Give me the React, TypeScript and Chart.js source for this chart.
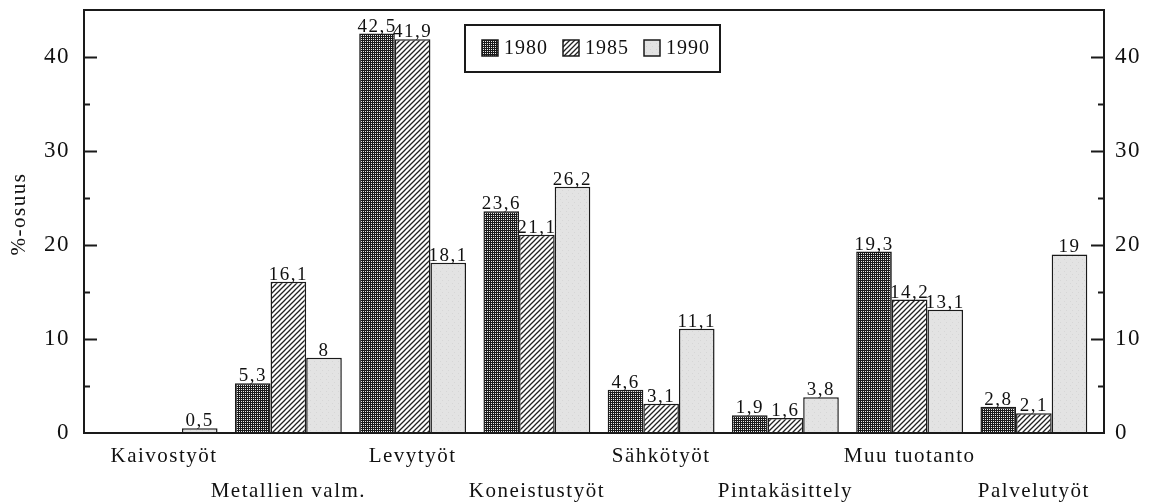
import React, { useEffect, useRef } from 'react';
import { Chart, registerables } from 'chart.js';

Chart.register(...registerables);

const categories = [
  'Kaivostyöt',
  'Metallien valm.',
  'Levytyöt',
  'Koneistustyöt',
  'Sähkötyöt',
  'Pintakäsittely',
  'Muu tuotanto',
  'Palvelutyöt',
];
const years = ['1980', '1985', '1990'];
const values1980 = [0, 5.3, 42.5, 23.6, 4.6, 1.9, 19.3, 2.8];
const values1985 = [0, 16.1, 41.9, 21.1, 3.1, 1.6, 14.2, 2.1];
const values1990 = [0.5, 8, 18.1, 26.2, 11.1, 3.8, 13.1, 19];
const yMin = 0;
const yMax = 45;
const yStep = 5;
const yTitle = '%-osuus';

const SERIF = '"Liberation Serif", "DejaVu Serif", serif';
const INK = '#111111';
// frame extends beyond the category band on each side
const FRAME_EXTRA_LEFT = 18;
const FRAME_EXTRA_RIGHT = 8;

function makePattern(kind: number): CanvasPattern | string {
  const c = document.createElement('canvas');
  const ctx = c.getContext('2d');
  if (!ctx) return '#888';
  if (kind === 0) {
    c.width = 4;
    c.height = 4;
    ctx.fillStyle = '#1a1a1a';
    ctx.fillRect(0, 0, 4, 4);
    ctx.fillStyle = '#e8e8e8';
    ctx.fillRect(1, 1, 1, 1);
    ctx.fillRect(3, 3, 1, 1);
    ctx.fillRect(1, 3, 1, 1);
    ctx.fillRect(3, 1, 1, 1);
  } else if (kind === 1) {
    c.width = 5;
    c.height = 5;
    ctx.fillStyle = '#ffffff';
    ctx.fillRect(0, 0, 5, 5);
    ctx.strokeStyle = '#222222';
    ctx.lineWidth = 1.3;
    ctx.beginPath();
    ctx.moveTo(-1, 6);
    ctx.lineTo(6, -1);
    ctx.moveTo(-1, 1);
    ctx.lineTo(1, -1);
    ctx.moveTo(4, 6);
    ctx.lineTo(6, 4);
    ctx.stroke();
  } else {
    c.width = 6;
    c.height = 6;
    ctx.fillStyle = '#e3e3e3';
    ctx.fillRect(0, 0, 6, 6);
    ctx.fillStyle = '#d6d6d6';
    ctx.fillRect(2, 1, 1, 1);
    ctx.fillRect(4, 4, 1, 1);
  }
  return ctx.createPattern(c, 'repeat') || '#888';
}

function fmt(v: number): string {
  return String(v).replace('.', ',');
}

const decorPlugin = {
  id: 'decor',
  beforeDraw(chart: any) {
    chart.ctx.letterSpacing = '1.5px';
  },
  afterDraw(chart: any) {
    const ctx = chart.ctx as CanvasRenderingContext2D;
    const { top, bottom } = chart.chartArea;
    const left = chart.chartArea.left - FRAME_EXTRA_LEFT;
    const right = chart.chartArea.right + FRAME_EXTRA_RIGHT;
    const y = chart.scales.y;
    ctx.save();
    ctx.letterSpacing = '1.5px';
    // frame
    ctx.strokeStyle = '#1a1a1a';
    ctx.lineWidth = 2;
    ctx.strokeRect(left, top, right - left, bottom - top);
    // inward tick marks
    ctx.beginPath();
    for (let v = yMin + yStep; v < yMax; v += yStep) {
      const py = Math.round(y.getPixelForValue(v)) + 0.5;
      const len = v % 10 === 0 ? 13 : 6;
      ctx.moveTo(left, py);
      ctx.lineTo(left + len, py);
      ctx.moveTo(right, py);
      ctx.lineTo(right - len, py);
    }
    ctx.stroke();
    // data labels
    ctx.fillStyle = INK;
    ctx.font = `19px ${SERIF}`;
    ctx.textAlign = 'center';
    ctx.textBaseline = 'alphabetic';
    chart.data.datasets.forEach((ds: any, di: number) => {
      const meta = chart.getDatasetMeta(di);
      meta.data.forEach((el: any, i: number) => {
        const v = ds.data[i];
        if (!v) return;
        ctx.fillText(fmt(v), el.x, el.y - 2);
      });
    });
    // y title
    ctx.save();
    ctx.translate(19, 214);
    ctx.rotate(-Math.PI / 2);
    ctx.font = `21px ${SERIF}`;
    ctx.textAlign = 'center';
    ctx.textBaseline = 'middle';
    ctx.fillText(yTitle, 0, 0);
    ctx.restore();
    // legend
    const bx = left + 381;
    const by = top + 15;
    const bw = 255;
    const bh = 47;
    ctx.fillStyle = '#ffffff';
    ctx.fillRect(bx, by, bw, bh);
    ctx.strokeStyle = '#1a1a1a';
    ctx.lineWidth = 2;
    ctx.strokeRect(bx, by, bw, bh);
    ctx.font = `20px ${SERIF}`;
    ctx.letterSpacing = '1px';
    ctx.textAlign = 'left';
    ctx.textBaseline = 'middle';
    chart.data.datasets.forEach((ds: any, di: number) => {
      const sx = bx + 17 + di * 81;
      const sy = by + 23;
      ctx.fillStyle = ds.backgroundColor;
      ctx.fillRect(sx, sy - 8, 16, 16);
      ctx.lineWidth = 1.5;
      ctx.strokeRect(sx, sy - 8, 16, 16);
      ctx.fillStyle = INK;
      ctx.fillText(ds.label, sx + 22, sy + 1);
    });
    ctx.restore();
  },
};

export default function App() {
  const ref = useRef<HTMLCanvasElement | null>(null);
  useEffect(() => {
    document.body.style.margin = '0';
    const canvas = ref.current;
    if (!canvas) return;
    const series = [values1980, values1985, values1990];
    const labels = categories.map((c, i) => (i % 2 === 0 ? [c, ''] : ['', c]));
    const yScale = (position: 'left' | 'right', width: number, padding: number) => ({
      type: 'linear' as const,
      position,
      display: true,
      min: yMin,
      max: yMax,
      grid: { display: false, drawTicks: false },
      border: { display: false },
      ticks: {
        stepSize: yStep,
        padding,
        color: INK,
        font: { family: SERIF, size: 23 },
        callback: (v: any) => (Number(v) % 10 === 0 && Number(v) < yMax ? String(v) : ''),
      },
      afterFit: (s: any) => {
        s.width = width;
        s.paddingTop = 0;
        s.paddingBottom = 0;
      },
    });
    const chart = new Chart(canvas, {
      type: 'bar',
      data: {
        labels,
        datasets: years.map((yr, i) => ({
          label: yr,
          data: series[i],
          backgroundColor: makePattern(i) as any,
          borderColor: '#1a1a1a',
          borderWidth: 1.5,
          barPercentage: 1,
          categoryPercentage: 0.86,
        })),
      },
      options: {
        animation: false,
        responsive: true,
        maintainAspectRatio: false,
        layout: { padding: { top: 10, left: 0, right: 0, bottom: 0 } },
        plugins: {
          legend: { display: false },
          tooltip: { enabled: false },
        },
        scales: {
          x: {
            grid: { display: false, drawTicks: false },
            border: { display: false },
            ticks: {
              padding: 6,
              color: INK,
              maxRotation: 0,
              autoSkip: false,
              font: { family: SERIF, size: 21, lineHeight: 1.67 },
            },
            afterFit: (s: any) => {
              s.height = 69;
              s.paddingLeft = 0;
              s.paddingRight = 0;
            },
          },
          y: yScale('left', 84 + FRAME_EXTRA_LEFT, 32),
          y2: yScale('right', 47 + FRAME_EXTRA_RIGHT, 19),
        },
      } as any,
      plugins: [decorPlugin],
    });
    return () => chart.destroy();
  }, []);
  return (
    <div style={{ width: 1151, height: 502, position: 'relative' }}>
      <canvas ref={ref} />
    </div>
  );
}
